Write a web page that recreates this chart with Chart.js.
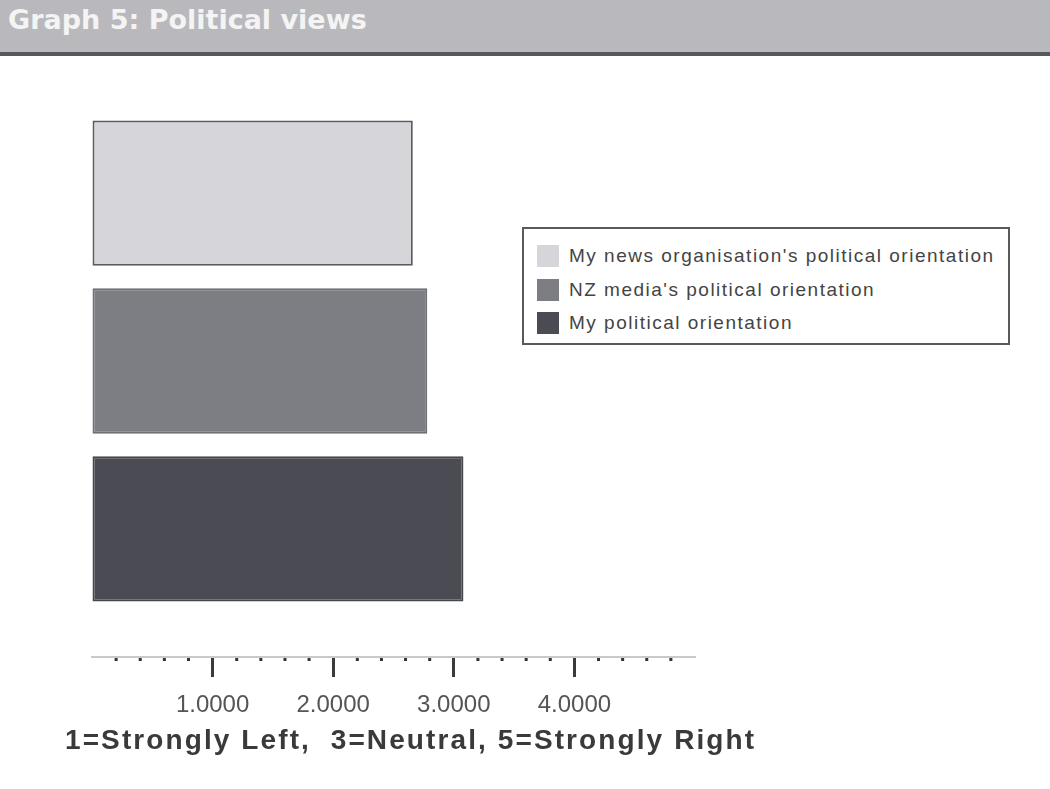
<!DOCTYPE html>
<html>
<head>
<meta charset="utf-8">
<script src="https://cdn.jsdelivr.net/npm/chart.js@4.4.1/dist/chart.umd.min.js"></script>
<style>
  html, body { margin: 0; padding: 0; background: #fff; }
  body { width: 1050px; height: 789px; position: relative; overflow: hidden; }
  #titleBar {
    position: absolute; left: 0; top: 0; width: 1050px; height: 52px;
    background: #b9b9bd; border-bottom: 4px solid #58585c;
  }
  #titleBar span {
    position: absolute; left: 8px; top: 4px;
    font: bold 27px "DejaVu Sans", sans-serif; color: #f4f4f4;
  }
  #chartWrap { position: absolute; left: 0; top: 0; width: 1050px; height: 789px; }
  #legend {
    position: absolute; left: 522px; top: 227px; width: 484px; height: 114px;
    border: 2px solid #5a5a5e; background: #fff; box-sizing: content-box;
  }
  .item { position: absolute; left: 13px; height: 24px; display: flex; align-items: center;
    font: 19px "Liberation Sans", Arial, sans-serif; letter-spacing: 1.5px;
    color: #444; white-space: nowrap; }
  .swatch { width: 22px; height: 22px; margin-right: 10px; }
  #axisTitle {
    position: absolute; left: 65px; top: 724px;
    font: bold 28px "Liberation Sans", Arial, sans-serif; letter-spacing: 2.1px;
    color: #3a3a3a; white-space: pre;
  }
</style>
</head>
<body>
<div id="titleBar"><span>Graph 5: Political views</span></div>
<div id="chartWrap"><canvas id="viewsChart"></canvas></div>
<div id="legend"></div>
<div id="axisTitle">1=Strongly Left,  3=Neutral, 5=Strongly Right</div>

<script>
// ------------------------------------------------------------
// Data (scale 1..5)
// ------------------------------------------------------------
const seriesLabels = [
  "My news organisation's political orientation",
  "NZ media's political orientation",
  "My political orientation",
];
const seriesValues = [2.66, 2.78, 3.08];
const seriesColors = ["#d5d5da", "#7d7e83", "#4b4c53"];
const seriesBorders = ["#5c5c60", "#6e6f74", "#46474d"];
const majorTicks = [1, 2, 3, 4];

// ------------------------------------------------------------
// Minor dots along the axis (drawn from the x scale)
// ------------------------------------------------------------
const minorDots = {
  id: "minorDots",
  afterDraw(chart) {
    const x = chart.scales.x;
    const ctx = chart.ctx;
    const y = x.top;
    ctx.save();
    ctx.fillStyle = "#333";
    x.ticks.forEach((t) => {
      const v = t.value;
      if (v <= 0 || v >= 5) return;
      if (Math.abs(v - Math.round(v)) < 1e-6) return;
      const px = x.getPixelForValue(v);
      ctx.fillRect(px - 1.5, y + 1, 3, 3);
    });
    ctx.restore();
  },
};

function isMajor(v) {
  return majorTicks.some((m) => Math.abs(m - v) < 1e-6);
}

// ------------------------------------------------------------
// Chart
// ------------------------------------------------------------
const ctx = document.getElementById("viewsChart").getContext("2d");
const chart = new Chart(ctx, {
  type: "bar",
  data: {
    labels: [""],
    datasets: seriesLabels.map((label, i) => ({
      label: label,
      data: [seriesValues[i]],
      backgroundColor: seriesColors[i],
      borderColor: seriesBorders[i],
      borderWidth: 2,
      borderSkipped: false,
      categoryPercentage: 0.851,
      barPercentage: 0.865,
    })),
  },
  options: {
    indexAxis: "y",
    responsive: true,
    maintainAspectRatio: false,
    animation: false,
    layout: { padding: { left: 92, right: 355, top: 65, bottom: 72 } },
    plugins: {
      legend: { display: false },
      tooltip: { enabled: false },
    },
    scales: {
      y: { display: false },
      x: {
        min: 0,
        max: 5,
        afterFit(scale) { scale.height = 60; },
        border: { display: true, color: "#c9c9cc", width: 2 },
        grid: {
          drawOnChartArea: false,
          drawTicks: true,
          tickLength: 20,
          tickWidth: 3,
          tickColor: (c) => (isMajor(c.tick.value) ? "#3a3a3a" : "rgba(0,0,0,0)"),
        },
        ticks: {
          stepSize: 0.2,
          autoSkip: false,
          maxRotation: 0,
          padding: 14,
          color: "#555",
          font: { family: "Liberation Sans", size: 24 },
          callback: (v) => (isMajor(v) ? Math.round(v).toFixed(4) : ""),
        },
      },
    },
  },
  plugins: [minorDots],
});

// ------------------------------------------------------------
// Legend box
// ------------------------------------------------------------
const legendEl = document.getElementById("legend");
seriesLabels.forEach((label, i) => {
  const item = document.createElement("div");
  item.className = "item";
  item.style.top = 15 + i * 33.5 + "px";
  const sw = document.createElement("div");
  sw.className = "swatch";
  sw.style.background = seriesColors[i];
  const txt = document.createElement("span");
  txt.textContent = label;
  item.appendChild(sw);
  item.appendChild(txt);
  legendEl.appendChild(item);
});
</script>
</body>
</html>
